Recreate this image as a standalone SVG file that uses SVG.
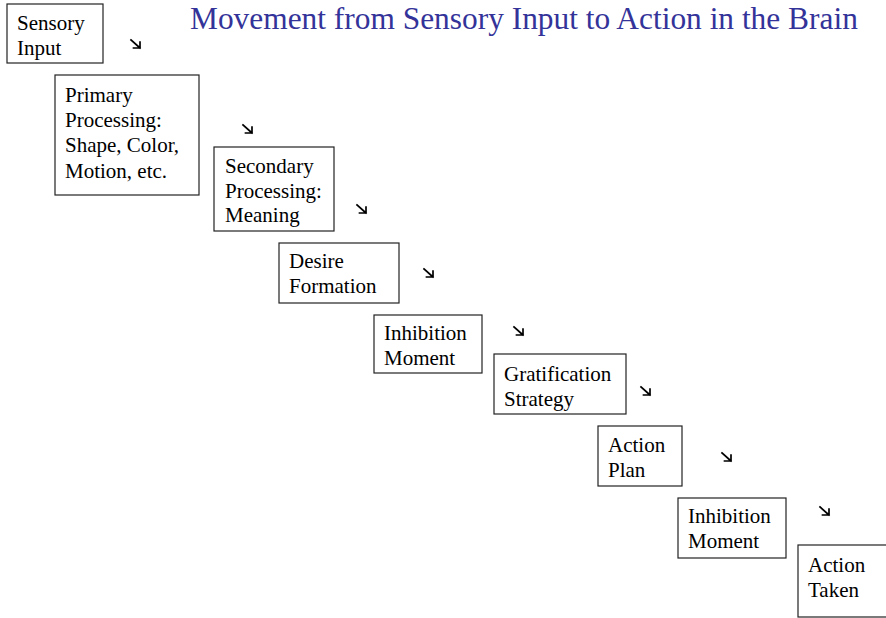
<svg xmlns="http://www.w3.org/2000/svg" width="886" height="618" viewBox="0 0 886 618">
<style>
.box{fill:#fff;stroke:#222;stroke-width:1.2}
.t{font-family:"Liberation Serif","Times New Roman",serif;font-size:21px;fill:#000}
.title{font-family:"Liberation Serif","Times New Roman",serif;font-size:31.4px;fill:#333399}
.arr{fill:none;stroke:#000;stroke-width:1.7;stroke-linecap:square}
</style>
<defs>
<path id="arrow" class="arr" d="M0 0 L9 8 M2.5 8 L9 8 L9 2"/>
</defs>
<rect width="886" height="618" fill="#fff"/>
<text class="title" x="190" y="29">Movement from Sensory Input to Action in the Brain</text>
<g id="connectors">
<use href="#arrow" x="131" y="40"/>
<use href="#arrow" x="243" y="125"/>
<use href="#arrow" x="357" y="205"/>
<use href="#arrow" x="424" y="269"/>
<use href="#arrow" x="514" y="327"/>
<use href="#arrow" x="641" y="387"/>
<use href="#arrow" x="722" y="453"/>
<use href="#arrow" x="820" y="507"/>
</g>
<g id="sensory-input">
<rect class="box" x="7" y="4" width="96" height="59"/>
<text class="t" x="17" y="30">Sensory</text>
<text class="t" x="17" y="55">Input</text>
</g>
<g id="primary-processing">
<rect class="box" x="55" y="75" width="144" height="120"/>
<text class="t" x="65" y="102">Primary</text>
<text class="t" x="65" y="127">Processing:</text>
<text class="t" x="65" y="152">Shape, Color,</text>
<text class="t" x="65" y="178">Motion, etc.</text>
</g>
<g id="secondary-processing">
<rect class="box" x="214" y="147" width="120" height="84"/>
<text class="t" x="225" y="173">Secondary</text>
<text class="t" x="225" y="198">Processing:</text>
<text class="t" x="225" y="222">Meaning</text>
</g>
<g id="desire-formation">
<rect class="box" x="279" y="243" width="120" height="60"/>
<text class="t" x="289" y="268">Desire</text>
<text class="t" x="289" y="293">Formation</text>
</g>
<g id="inhibition-moment-1">
<rect class="box" x="374" y="315" width="108" height="58"/>
<text class="t" x="384" y="340">Inhibition</text>
<text class="t" x="384" y="365">Moment</text>
</g>
<g id="gratification-strategy">
<rect class="box" x="494" y="354" width="132" height="60"/>
<text class="t" x="504" y="381">Gratification</text>
<text class="t" x="504" y="406">Strategy</text>
</g>
<g id="action-plan">
<rect class="box" x="598" y="426" width="84" height="60"/>
<text class="t" x="608" y="452">Action</text>
<text class="t" x="608" y="477">Plan</text>
</g>
<g id="inhibition-moment-2">
<rect class="box" x="678" y="498" width="108" height="60"/>
<text class="t" x="688" y="523">Inhibition</text>
<text class="t" x="688" y="548">Moment</text>
</g>
<g id="action-taken">
<rect class="box" x="798" y="545" width="90" height="72"/>
<text class="t" x="808" y="572">Action</text>
<text class="t" x="808" y="597">Taken</text>
</g>
</svg>
